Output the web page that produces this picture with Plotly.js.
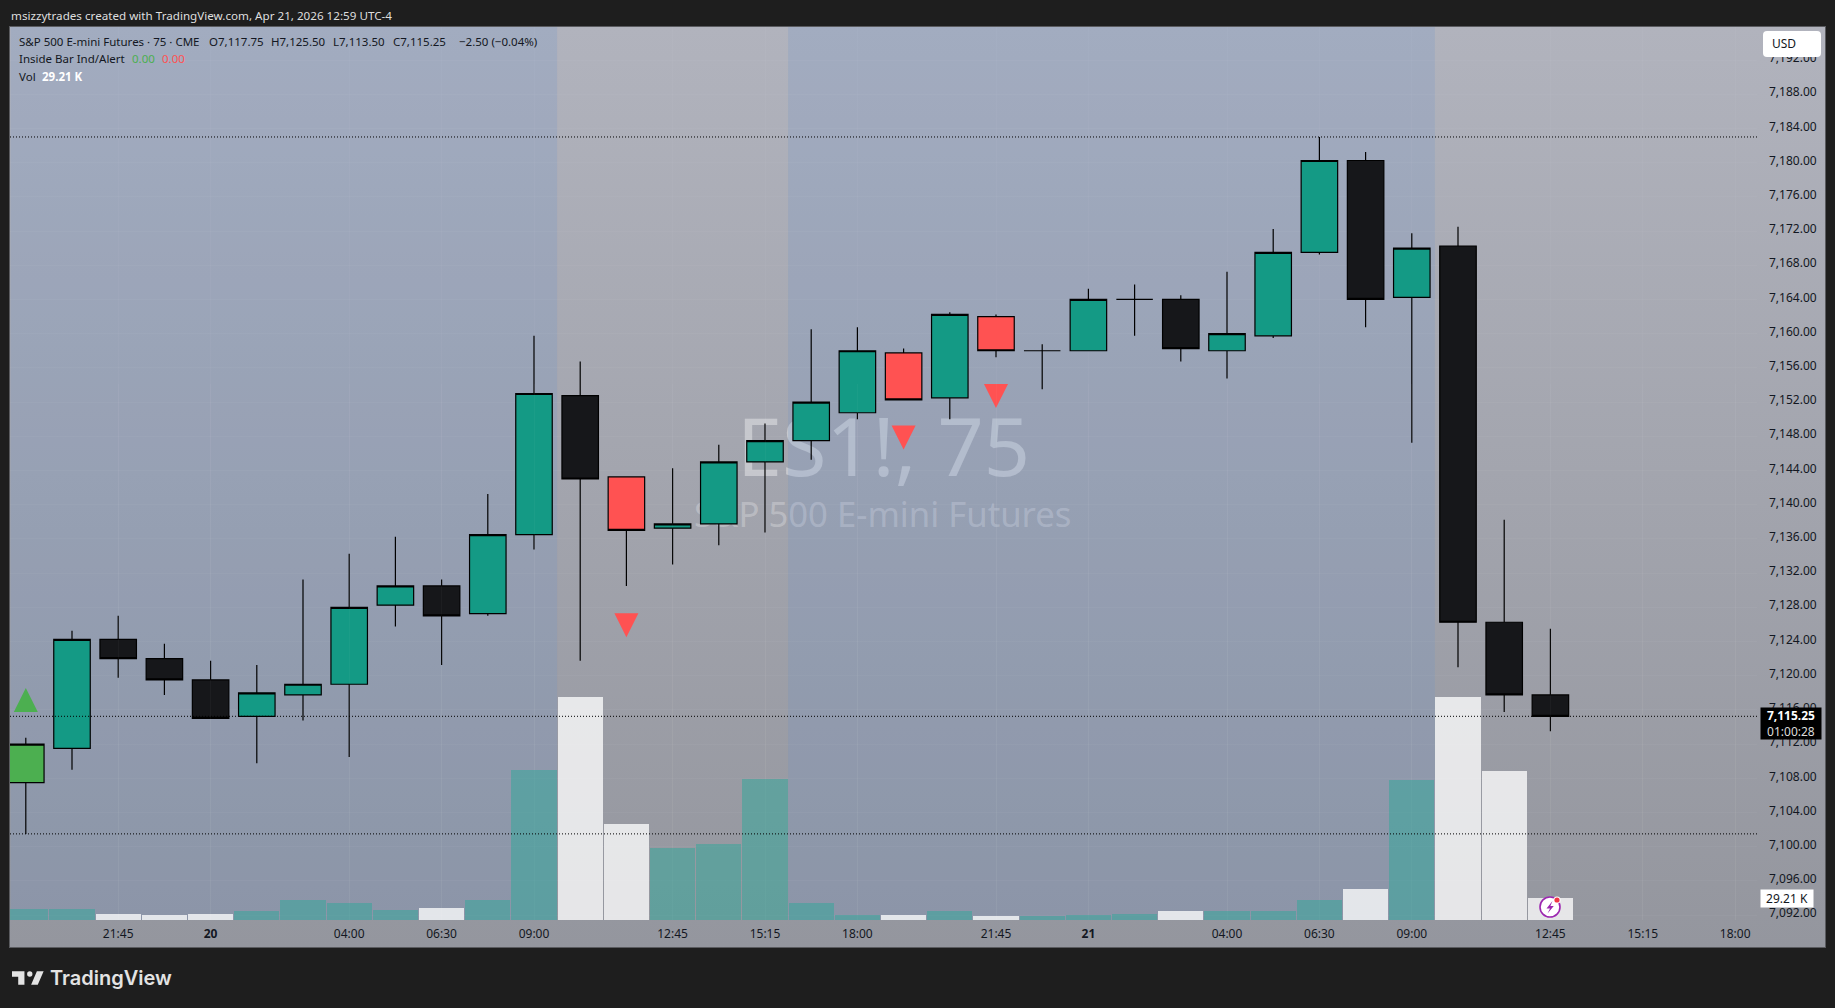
<!DOCTYPE html>
<html>
<head>
<meta charset="utf-8">
<script src="https://cdn.plot.ly/plotly-3.0.1.min.js"></script>
<style>
html,body{margin:0;padding:0;background:#1e1e1e;overflow:hidden;width:1835px;height:1008px;}
#frame{position:absolute;left:9px;top:26px;width:1815px;height:920px;border:1.5px solid #5a5b5f;box-sizing:content-box;
 background:linear-gradient(180deg,#b1b3bd 0%,#94969e 100%);}
.wm{position:absolute;color:rgba(255,255,255,.38);font-family:"Noto Sans",sans-serif;white-space:nowrap;line-height:1;}
#chart{position:absolute;left:0;top:0;width:1835px;height:1008px;}
#usd{position:absolute;left:1763px;top:31px;width:58px;height:26px;background:#fff;border-radius:4px;color:#131722;
 font:12px/26px "Noto Sans",sans-serif;text-indent:9px;}
#bolt{position:absolute;left:1537px;top:894px;}
#logo{position:absolute;left:12px;top:966px;}
</style>
</head>
<body>
<div id="frame"></div>
<div class="wm" style="left:737px;top:404px;font-size:81px;">ES1!, 75</div>
<div class="wm" style="left:694px;top:497px;font-size:34.7px;color:rgba(255,255,255,.27);">S&amp;P 500 E-mini Futures</div>
<div id="chart"></div>
<div id="usd">USD</div>
<svg id="bolt" width="28" height="28" viewBox="0 0 28 28">
 <circle cx="13" cy="13" r="10" fill="#fff" stroke="#9c27b0" stroke-width="1.6"/>
 <path d="M15.5 7 L9.5 14.5 H13 L10.5 19.5 L16.8 12 H13.4 Z" fill="#9c27b0"/>
 <circle cx="20" cy="6" r="3.6" fill="#fff"/><circle cx="20" cy="6" r="2.6" fill="#f23645"/>
</svg>
<svg id="logo" width="32" height="24" viewBox="0 0 36 27">
 <path d="M14 6H0v6h7v9h7V6Zm21.6 0L29 21h-7.5L28 6h7.6ZM20 12a3 3 0 1 0 0-6 3 3 0 0 0 0 6Z" fill="#e3e3e3"/>
</svg>
<script>
// ---- data ----
const barIndex = [0,1,2,3,4,5,6,7,8,9,10,11,12,13,14,15,16,17,18,19,20,21,22,23,24,25,26,27,28,29,30,31,32,33];
const opens  = [7107.5,7111.5,7124.25,7122,7119.5,7115.25,7117.75,7119,7128.25,7130.5,7127.25,7136.5,7152.75,7143.25,7137.25,7137.75,7145,7147.5,7150.75,7157.75,7152.5,7162,7158,7158,7164,7164,7158,7159.75,7169.5,7180.25,7164.25,7170.25,7126.25,7117.75];
const highs  = [7112.75,7125.25,7127,7123.75,7121.75,7121.25,7131.25,7134.25,7136.25,7131.25,7141.25,7159.75,7156.75,7143.25,7144.25,7147,7149.5,7160.5,7160.75,7158.25,7162.5,7162.25,7158.75,7165.25,7165.75,7164.5,7167.25,7172.25,7183,7181.25,7171.75,7172.5,7138.25,7125.5];
const lows   = [7101.5,7109,7119.75,7117.75,7115,7109.75,7114.75,7110.5,7125.75,7121.25,7127,7134.75,7121.75,7130.5,7133,7135.25,7136.75,7145.25,7150,7152.25,7150,7157.25,7153.5,7158,7159.75,7156.75,7154.75,7159.5,7169.25,7160.75,7147.25,7121,7115.75,7113.5];
const closes = [7112,7124.25,7122,7119.5,7115,7118,7119,7128,7130.5,7127,7136.5,7153,7143,7137,7137.75,7145,7147.5,7152,7158,7152.25,7162.25,7158,7158,7164,7164,7158.25,7160,7169.5,7180.25,7164,7170,7126.25,7117.75,7115.25];
const barKinds = ["green","teal","black","black","black","teal","teal","teal","teal","black","teal","teal","black","red","teal","teal","teal","teal","teal","red","teal","red","teal","teal","teal","black","teal","teal","teal","black","teal","black","black","black"];
const volumesK = [14.6,14.6,8,6.6,8,12,26.6,22.6,13.3,16,26.6,199,296,127.5,95.6,101,187,22.6,6.6,6.6,12,5.3,5.3,6.6,8,12,12,12,26.6,41,186,296,198,29.21];
const volumeDown = [0,0,1,1,1,0,0,0,0,1,0,0,1,1,0,0,0,0,0,1,0,1,0,0,0,1,0,0,0,1,0,1,1,1];
const tickBars = [2,4,7,9,11,14,16,18,21,23,26,28,30,33,35,37];
const tickLabels = ["21:45","<b>20</b>","04:00","06:30","09:00","12:45","15:15","18:00","21:45","<b>21</b>","04:00","06:30","09:00","12:45","15:15","18:00"];
const buySignalBars = [0];
const buySignalPrices = [7117.15];
const sellSignalBars = [13,19,21];
const sellSignalPrices = [7125.9,7147.85,7152.7];
const levelPrices = [7183,7115.25,7101.5];
const sessionBands = [[-0.33,11.5],[16.5,30.5]];

// ---- styles ----
const FONT = '"Noto Sans", sans-serif';
const fills = {teal:"#149a85",black:"#16171a",red:"#ff5252",green:"#4caf50"};
const X_RANGE = [(10-25.8)/46.2,(1757-25.8)/46.2];
const Y_RANGE = [7091.43,7195.86];
const PX = {l:10,t:27,w:1747,h:893};
const px = x=>(x-PX.l)/PX.w, py = y=>1-(y-PX.t)/PX.h;

const traces = [];
// volume
traces.push({type:"bar",x:barIndex,y:volumesK,yaxis:"y2",
  marker:{color:volumeDown.map(d=>d?"rgba(255,255,255,0.76)":"rgba(45,168,154,0.5)"),line:{width:0}},
  width:0.975,hoverinfo:"skip"});
// candles, one trace per colour
Object.keys(fills).forEach(kind=>{
  const ix = barIndex.filter(i=>barKinds[i]===kind);
  const side = {line:{color:"#000",width:1.2},fillcolor:fills[kind]};
  traces.push({type:"candlestick",x:ix,open:ix.map(i=>opens[i]),high:ix.map(i=>highs[i]),
    low:ix.map(i=>lows[i]),close:ix.map(i=>closes[i]),increasing:side,decreasing:side,
    whiskerwidth:0,hoverinfo:"skip",yaxis:"y"});
});
// inside-bar signal triangles
function triangles(bars,prices,dir,color){
  const xs=[],ys=[],hw=0.26,hh=1.4;
  bars.forEach((b,k)=>{xs.push(b-hw,b+hw,b,null);ys.push(prices[k]-dir*hh,prices[k]-dir*hh,prices[k]+dir*hh,null);});
  return {type:"scatter",x:xs,y:ys,mode:"lines",fill:"toself",fillcolor:color,line:{width:0,color:color},hoverinfo:"skip",yaxis:"y"};
}
traces.push(triangles(buySignalBars,buySignalPrices,1,fills.green));
traces.push(triangles(sellSignalBars,sellSignalPrices,-1,fills.red));

const shapes = [];
sessionBands.forEach(b=>shapes.push({type:"rect",layer:"below",xref:"x",yref:"paper",x0:b[0],x1:b[1],y0:0,y1:1,
  fillcolor:"rgba(105,145,205,0.2)",line:{width:0}}));
levelPrices.forEach(p=>shapes.push({type:"line",layer:"above",xref:"paper",yref:"y",x0:0,x1:1,y0:p,y1:p,
  line:{color:"#000",width:1,dash:"1px,2px"}}));

const note=(text,x,y,o={})=>Object.assign({text,xref:"paper",yref:"paper",x:px(x),y:py(y),xanchor:"left",yanchor:"middle",
  showarrow:false,align:"left",font:{family:FONT,size:11.5,color:"#131722"},borderpad:0},o);
const annotations=[
  note("msizzytrades created with TradingView.com, Apr 21, 2026 12:59 UTC-4",10,15,{font:{family:FONT,size:11.65,color:"#dedede"}}),
  note("S&P 500 E-mini Futures · 75 · CME",18,42),
  note("O7,117.75",208,42),note("H7,125.50",270,42),note("L7,113.50",332,42),note("C7,115.25",392,42),
  note("−2.50 (−0.04%)",458,42),
  note("Inside Bar Ind/Alert",18,59),
  note("0.00",131,59,{font:{family:FONT,size:11.5,color:"#4caf50"}}),
  note("0.00",161,59,{font:{family:FONT,size:11.5,color:"#ff5252"}}),
  note("Vol",18,76),
  note("<b>29.21 K</b>",41,76,{font:{family:FONT,size:11.5,color:"#fff"}}),
  note("<b>7,115.25</b><br><span style='color:#dcdcdc'>01:00:28</span>",1760,723.5,{bgcolor:"#000",width:60,height:31,align:"center",font:{family:FONT,size:12,color:"#fff"}}),
  note("29.21 K",1760,898.5,{bgcolor:"#fff",width:52,height:17,align:"center",font:{family:FONT,size:12,color:"#131722"}}),
  note("TradingView",49,978,{font:{family:'Inter, "Noto Sans", sans-serif',size:20,weight:600,color:"#e3e3e3"}})
];

const layout={
  width:1835,height:1008,autosize:false,showlegend:false,
  paper_bgcolor:"rgba(0,0,0,0)",plot_bgcolor:"rgba(0,0,0,0)",
  margin:{l:PX.l,r:1835-PX.l-PX.w,t:PX.t,b:1008-PX.t-PX.h,pad:0},
  hovermode:false,bargap:0,boxgap:0.21,boxgroupgap:0,
  font:{family:FONT,size:12,color:"#131722"},
  xaxis:{type:"linear",range:X_RANGE,tickmode:"array",tickvals:tickBars,ticktext:tickLabels,
    showgrid:true,gridcolor:"rgba(255,255,255,0.03)",gridwidth:1,zeroline:false,showline:false,ticks:"",
    rangeslider:{visible:false},tickfont:{family:FONT,size:12,color:"#131722"},ticklabelstandoff:5},
  yaxis:{side:"right",anchor:"x",range:Y_RANGE,tick0:7092,dtick:4,tickformat:",.2f",
    showgrid:true,gridcolor:"rgba(255,255,255,0.035)",gridwidth:1,zeroline:false,showline:false,ticks:"",
    tickfont:{family:FONT,size:12,color:"#131722"},ticklabelstandoff:11,ticklabelshift:-2},
  yaxis2:{domain:[0,0.6],range:[0,296*0.6*PX.h/223],visible:false,anchor:"x",fixedrange:true},
  shapes,annotations
};
Plotly.newPlot("chart",traces,layout,{displayModeBar:false,staticPlot:true});
</script>
</body>
</html>
